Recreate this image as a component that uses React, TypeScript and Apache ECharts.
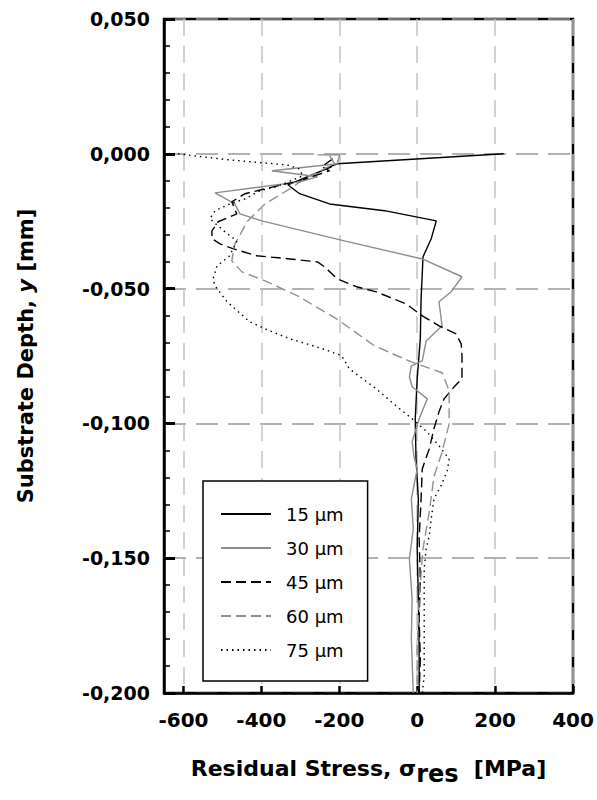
import React, { useEffect, useRef } from "react";
import * as echarts from "echarts";

// Series values: residual stress [MPa] vs substrate depth [mm]
const stress15 = [222, -205, -238, -220, -332, -302, -225, -84, 49, 36, 15, 10, 8, 0, -5, -3, 3, 0, 3, 5, 5];
const depth15 = [0, -0.0037, -0.0056, -0.0048, -0.0115, -0.0148, -0.0186, -0.0211, -0.0249, -0.0315, -0.0382, -0.0538, -0.0686, -0.0835, -0.0983, -0.1132, -0.128, -0.1465, -0.1651, -0.1836, -0.2];

const stress30 = [-256, -199, -205, -373, -256, -302, -519, -468, -455, -399, -187, 13, 115, 87, 56, 64, 23, 13, -15, -20, -13, 26, 5, -13, -8, 0, -15, -10, -20, -13, -15, -10];
const depth30 = [-0.0004, -0.0004, -0.0037, -0.0063, -0.0085, -0.0104, -0.0145, -0.0186, -0.0223, -0.0249, -0.0323, -0.039, -0.0456, -0.0512, -0.0549, -0.0638, -0.0694, -0.0768, -0.0787, -0.0827, -0.0864, -0.0909, -0.0983, -0.1068, -0.1124, -0.1169, -0.128, -0.1391, -0.1503, -0.1651, -0.18, -0.2];

const stress45 = [-217, -245, -225, -302, -391, -442, -476, -463, -511, -527, -527, -506, -473, -412, -327, -256, -238, -205, -156, -105, -28, 13, 56, 100, 113, 115, 115, 95, 69, 56, 43, 31, 13, 10, 5, 8, 5, 8, 5];
const depth45 = [-0.0019, -0.0048, -0.0063, -0.01, -0.013, -0.0148, -0.0178, -0.0223, -0.0252, -0.0286, -0.0315, -0.0334, -0.0352, -0.0378, -0.039, -0.0401, -0.0419, -0.0464, -0.0493, -0.0512, -0.0557, -0.0601, -0.0638, -0.0668, -0.0705, -0.0749, -0.0835, -0.0864, -0.0909, -0.0957, -0.102, -0.1094, -0.1169, -0.128, -0.1428, -0.1577, -0.1725, -0.1874, -0.2];

const stress60 = [-225, -212, -289, -327, -391, -435, -468, -476, -450, -391, -307, -207, -110, -15, 64, 82, 82, 64, 43, 31, 15, 5, 0, 0];
const depth60 = [-0.0007, -0.0037, -0.0093, -0.013, -0.0186, -0.0249, -0.0334, -0.0397, -0.0438, -0.0471, -0.0527, -0.0612, -0.0712, -0.0772, -0.0812, -0.0879, -0.1002, -0.1106, -0.1198, -0.1328, -0.1465, -0.1651, -0.1836, -0.2];

const stress75 = [-614, -575, -486, -424, -335, -302, -294, -361, -404, -442, -481, -519, -532, -494, -463, -481, -514, -524, -519, -488, -430, -378, -327, -243, -194, -174, -105, -54, -13, 23, 56, 82, 77, 61, 43, 36, 31, 23, 18, 18, 18, 13];
const depth75 = [0, -0.0007, -0.0022, -0.003, -0.0041, -0.0056, -0.0082, -0.0122, -0.0137, -0.0167, -0.0186, -0.0211, -0.0241, -0.0289, -0.0323, -0.0378, -0.0416, -0.0464, -0.049, -0.0549, -0.0623, -0.0657, -0.0686, -0.0723, -0.0749, -0.0798, -0.0872, -0.0935, -0.0983, -0.1028, -0.1083, -0.1132, -0.1176, -0.1232, -0.128, -0.1354, -0.1417, -0.1465, -0.154, -0.1773, -0.1937, -0.2];

const seriesNames = ["15 µm", "30 µm", "45 µm", "60 µm", "75 µm"];
const xTicks = [-600, -400, -200, 0, 200, 400];

const zip = (xs: number[], ys: number[]) => xs.map((x, i) => [x, ys[i]]);

const FONT = "DejaVu Sans";

export default function App() {
  const ref = useRef<HTMLDivElement>(null);
  useEffect(() => {
    document.body.style.margin = "0";
    if (!ref.current) return;
    const chart = echarts.init(ref.current, undefined, { renderer: "svg" });
    const mk = (name: string, data: number[][], color: string, type: any) => ({
      name,
      type: "line",
      data,
      showSymbol: false,
      symbol: "none",
      smooth: false,
      lineStyle: { color, width: 1.4, type },
      itemStyle: { color },
    });
    chart.setOption({
      animation: false,
      backgroundColor: "#fff",
      grid: {
        left: 164,
        right: 24,
        top: 19,
        bottom: 107,
        show: true,
        borderColor: "#000",
        borderWidth: 2.5,
        backgroundColor: "transparent",
      },
      legend: {
        orient: "vertical",
        left: 203,
        top: 481,
        itemWidth: 50,
        itemHeight: 14,
        itemGap: 16,
        padding: [24, 24, 22, 17],
        backgroundColor: "#fff",
        borderColor: "#000",
        borderWidth: 1.5,
        borderRadius: 0,
        itemStyle: { opacity: 0, color: "transparent", borderWidth: 0 },
        textStyle: { fontFamily: FONT, fontSize: 18, color: "#000", padding: [0, 0, 0, 10] },
        data: seriesNames,
      },
      xAxis: {
        type: "value",
        min: -650,
        max: 400,
        name: "{a|Residual Stress, σ}{b|res}{a|  [MPa]}",
        nameLocation: "middle",
        nameGap: 64,
        nameTextStyle: {
          rich: {
            a: { fontFamily: FONT, fontWeight: "bold", fontSize: 22, color: "#000", verticalAlign: "bottom", padding: [0, 0, 7, 0] },
            b: { fontFamily: FONT, fontWeight: "bold", fontSize: 24, color: "#000", verticalAlign: "bottom" },
          },
        },
        axisLine: { show: true, onZero: false, lineStyle: { color: "#000", width: 2.5 } },
        axisTick: { show: true, inside: true, length: 7, lineStyle: { color: "#000", width: 2.5 }, customValues: xTicks },
        axisLabel: {
          customValues: xTicks,
          fontFamily: FONT,
          fontWeight: "bold",
          fontSize: 20,
          color: "#000",
          margin: 17,
          formatter: (v: number) => String(v),
        },
        splitLine: { show: true, lineStyle: { color: "#c4c4c4", width: 1.5, type: [17, 10] } },
      },
      yAxis: {
        type: "value",
        min: -0.2,
        max: 0.05,
        interval: 0.05,
        name: "{a|Substrate Depth, }{i|y}{a| [mm]}",
        nameLocation: "middle",
        nameGap: 128,
        nameTextStyle: {
          rich: {
            a: { fontFamily: FONT, fontWeight: "bold", fontSize: 21, color: "#000" },
            i: { fontFamily: FONT, fontWeight: "bold", fontStyle: "italic", fontSize: 21, color: "#000" },
          },
        },
        axisLine: { show: true, onZero: false, lineStyle: { color: "#000", width: 2.5 } },
        axisTick: { show: true, inside: true, length: 11, lineStyle: { color: "#000", width: 3 } },
        minorTick: { show: true, splitNumber: 5, length: 6, lineStyle: { color: "#000", width: 1.5 } },
        axisLabel: {
          fontFamily: FONT,
          fontWeight: "bold",
          fontSize: 19,
          color: "#000",
          margin: 14,
          formatter: (v: number) => (Math.abs(v) < 1e-9 ? "0,000" : v.toFixed(3).replace(".", ",")),
        },
        splitLine: { show: true, lineStyle: { color: "#999", width: 1.5, type: [22, 10] } },
      },
      series: [
        mk(seriesNames[0], zip(stress15, depth15), "#000", "solid"),
        mk(seriesNames[1], zip(stress30, depth30), "#8c8c8c", "solid"),
        mk(seriesNames[2], zip(stress45, depth45), "#000", [10, 5]),
        mk(seriesNames[3], zip(stress60, depth60), "#909090", [10, 5]),
        mk(seriesNames[4], zip(stress75, depth75), "#000", [1.5, 4]),
      ],
    });
    return () => chart.dispose();
  }, []);
  return <div ref={ref} style={{ width: 597, height: 800 }} />;
}
